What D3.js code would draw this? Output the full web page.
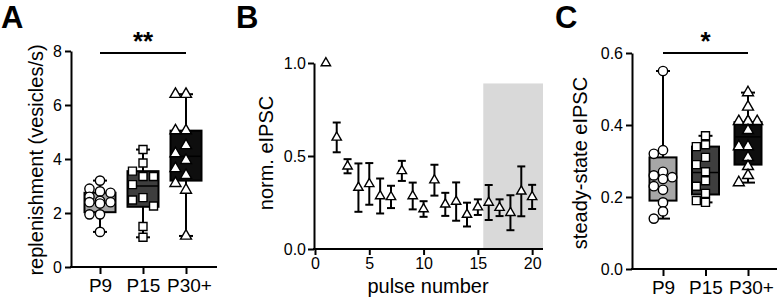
<!DOCTYPE html>
<html>
<head>
<meta charset="utf-8">
<script src="https://cdn.jsdelivr.net/npm/d3@7"></script>
<style>
  body { margin: 0; background: #fff; }
  svg { display: block; font-family: "Liberation Sans", Arial, sans-serif; }
</style>
</head>
<body>
<div id="fig"></div>
<script>
// ---- data ----
const groups = ["P9", "P15", "P30+"];
const groupFill = ["#a6a6a6", "#3e3e3e", "#0e0e0e"];
const groupShape = [d3.symbolCircle, d3.symbolSquare, d3.symbolTriangle];

// panel A: replenishment (vesicles/s)
const replP9 = [3.2, 2.9, 2.8, 2.75, 2.6, 2.45, 2.4, 2.4, 2.35, 1.95, 1.95, 1.3];
const replP15 = [4.35, 3.85, 3.55, 3.35, 3.35, 3.05, 2.57, 2.48, 2.26, 1.5, 1.1];
const replP30 = [6.4, 6.4, 5.05, 5.05, 4.5, 4.2, 3.95, 3.65, 3.4, 3.1, 2.85, 1.15];
// min, q1, median, q3, max
const replBox = [
  [1.3, 2.03, 2.37, 2.75, 3.2],
  [1.1, 2.23, 3.0, 3.55, 4.35],
  [1.15, 3.2, 4.1, 5.05, 6.4]
];
const replTicks = [0, 2, 4, 6, 8];

// panel B: normalised eIPSC per pulse (mean, error)
const pulses = d3.range(1, 21);
const eipscMean = [1.0, 0.60, 0.445, 0.33, 0.35, 0.285, 0.28, 0.42, 0.285, 0.215, 0.37, 0.24, 0.255, 0.185, 0.225, 0.25, 0.222, 0.195, 0.31, 0.28];
const eipscErr = [0, 0.08, 0.038, 0.13, 0.112, 0.094, 0.06, 0.054, 0.072, 0.042, 0.083, 0.062, 0.103, 0.064, 0.042, 0.094, 0.045, 0.094, 0.134, 0.065];
const steadyStart = 15.5;
const steadyTop = 0.89;

// panel C: steady-state eIPSC
const ssP9 = [0.55, 0.33, 0.32, 0.27, 0.26, 0.255, 0.25, 0.23, 0.22, 0.185, 0.16, 0.14];
const ssP15 = [0.37, 0.345, 0.34, 0.31, 0.29, 0.27, 0.245, 0.23, 0.21, 0.19, 0.185];
const ssP30 = [0.49, 0.45, 0.41, 0.41, 0.41, 0.41, 0.385, 0.34, 0.34, 0.31, 0.285, 0.26, 0.24];
const ssBox = [
  [0.14, 0.19, 0.255, 0.31, 0.55],
  [0.185, 0.207, 0.268, 0.34, 0.37],
  [0.24, 0.29, 0.367, 0.408, 0.49]
];
const ssTicks = [0, 0.2, 0.4, 0.6];

const W = 779, H = 302;
const svg = d3.select("#fig").append("svg")
  .attr("width", W)
  .attr("height", H);

function styleAxis(g, fontSize) {
  g.select(".domain").attr("stroke", "#000").attr("stroke-width", 2);
  g.selectAll(".tick line").attr("stroke", "#000").attr("stroke-width", 2);
  g.selectAll(".tick text")
    .attr("fill", "#000")
    .style("font-size", fontSize + "px")
    .style("font-family", "'Liberation Sans', Arial, sans-serif");
}

// small scatter layout: centre, left or right column, whichever is least crowded
function dodge(values, y, step) {
  const placed = [];
  const order = values.map((v, i) => i).sort((a, b) => values[b] - values[a]);
  const offs = new Array(values.length);
  const cands = [0, -step, step];
  order.forEach(i => {
    const py = y(values[i]);
    let best = 0, bestD = -1;
    for (const c of cands) {
      const d = placed.length ? d3.min(placed, p => Math.hypot(p.x - c, p.y - py)) : Infinity;
      if (d >= 9) { best = c; bestD = d; break; }
      if (d > bestD) { best = c; bestD = d; }
    }
    placed.push({ x: best, y: py });
    offs[i] = best;
  });
  return offs;
}

function boxPanel(opt) {
  const x = d3.scalePoint().domain(groups).range(opt.xRange);
  const y = d3.scaleLinear().domain(opt.yDomain).range(opt.yRange);

  // y axis
  const gy = svg.append("g")
    .attr("transform", `translate(${opt.axisX},0)`)
    .call(d3.axisLeft(y).tickValues(opt.ticks).tickSize(6).tickSizeOuter(0).tickPadding(3).tickFormat(opt.fmt));
  styleAxis(gy, 16);

  // x axis
  const gx = svg.append("g")
    .attr("transform", `translate(0,${opt.yRange[0]})`)
    .call(d3.axisBottom(x).tickSize(7).tickSizeOuter(0).tickPadding(5));
  gx.select(".domain").attr("d", `M${opt.axisX - 1},0H${opt.axisEnd}`);
  styleAxis(gx, 19);
  gx.selectAll(".tick text").attr("dx", (d, i) => i === 2 ? 3 : 0);

  const bw = opt.boxWidth;
  groups.forEach((gname, gi) => {
    const [mn, q1, md, q3, mx] = opt.box[gi];
    const cx = x(gname);
    const g = svg.append("g");
    g.append("line")
      .attr("x1", cx).attr("x2", cx)
      .attr("y1", y(mx)).attr("y2", y(mn))
      .attr("stroke", "#000").attr("stroke-width", 2);
    [mn, mx].forEach(v => g.append("line")
      .attr("x1", cx - 7).attr("x2", cx + 7)
      .attr("y1", y(v)).attr("y2", y(v))
      .attr("stroke", "#000").attr("stroke-width", 2));
    g.append("rect")
      .attr("x", cx - bw / 2).attr("width", bw)
      .attr("y", y(q3)).attr("height", y(q1) - y(q3))
      .attr("fill", groupFill[gi])
      .attr("stroke", "#000").attr("stroke-width", 2);
    g.append("line")
      .attr("x1", cx - bw / 2).attr("x2", cx + bw / 2)
      .attr("y1", y(md)).attr("y2", y(md))
      .attr("stroke", "#000").attr("stroke-width", 1.5);

    const vals = opt.points[gi];
    const offs = dodge(vals, y, bw * 0.34);
    const size = [68, 64, 52][gi];
    g.selectAll("path.pt")
      .data(vals)
      .enter().append("path")
      .attr("class", "pt")
      .attr("d", d3.symbol().type(groupShape[gi]).size(size))
      .attr("transform", (d, i) => `translate(${cx + offs[i]},${y(d)})`)
      .attr("fill", "#fff")
      .attr("stroke", "#000")
      .attr("stroke-width", 1.4);
  });

  // significance bar
  svg.append("line")
    .attr("x1", x(groups[0])).attr("x2", x(groups[2]))
    .attr("y1", opt.sigY).attr("y2", opt.sigY)
    .attr("stroke", "#000").attr("stroke-width", 2);
  svg.append("text")
    .attr("x", x(groups[1]))
    .attr("y", opt.sigY - 3)
    .attr("text-anchor", "middle")
    .style("font-size", "26px")
    .style("font-weight", "bold")
    .text(opt.sig);

  // y title
  svg.append("text")
    .attr("transform", `translate(${opt.titleX},${opt.titleY}) rotate(-90)`)
    .attr("text-anchor", "middle")
    .style("font-size", "20px")
    .text(opt.title);
}

// ---- panel A ----
boxPanel({
  xRange: [100, 186], yDomain: [0, 8], yRange: [267, 51],
  axisX: 71, axisEnd: 217, ticks: replTicks, fmt: d3.format("d"),
  box: replBox, points: [replP9, replP15, replP30], boxWidth: 31,
  sigY: 53, sig: "**",
  title: "replenishment (vesicles/s)", titleX: 43, titleY: 160
});

// ---- panel C ----
boxPanel({
  xRange: [663, 748], yDomain: [0, 0.6], yRange: [269, 53],
  axisX: 632, axisEnd: 777, ticks: ssTicks, fmt: d3.format(".1f"),
  box: ssBox, points: [ssP9, ssP15, ssP30], boxWidth: 27,
  sigY: 53, sig: "*",
  title: "steady-state eIPSC", titleX: 587, titleY: 163
});

// ---- panel B ----
const xb = d3.scaleLinear().domain([0, 21]).range([315, 543]);
const yb = d3.scaleLinear().domain([0, 1]).range([249, 63]);

svg.append("rect")
  .attr("x", xb(steadyStart))
  .attr("width", xb(21) - xb(steadyStart))
  .attr("y", yb(steadyTop))
  .attr("height", yb(0) - yb(steadyTop))
  .attr("fill", "#d9d9d9");

const gyb = svg.append("g")
  .attr("transform", `translate(${xb(0) - 1},0)`)
  .call(d3.axisLeft(yb).tickValues([0, 0.5, 1]).tickFormat(d3.format(".1f")).tickSize(6).tickSizeOuter(0).tickPadding(2));
styleAxis(gyb, 16);

const gxb = svg.append("g")
  .attr("transform", `translate(0,${yb(0)})`)
  .call(d3.axisBottom(xb).tickValues([0, 5, 10, 15, 20]).tickSize(6).tickSizeOuter(0).tickPadding(3));
gxb.select(".domain").attr("d", `M${xb(0) - 2},0H${xb(21)}`);
styleAxis(gxb, 16);

const errG = svg.append("g");
pulses.forEach((p, i) => {
  if (eipscErr[i] <= 0) return;
  const lo = eipscMean[i] - eipscErr[i], hi = eipscMean[i] + eipscErr[i];
  errG.append("line")
    .attr("x1", xb(p)).attr("x2", xb(p))
    .attr("y1", yb(hi)).attr("y2", yb(lo))
    .attr("stroke", "#000").attr("stroke-width", 2);
  [lo, hi].forEach(v => errG.append("line")
    .attr("x1", xb(p) - 4).attr("x2", xb(p) + 4)
    .attr("y1", yb(v)).attr("y2", yb(v))
    .attr("stroke", "#000").attr("stroke-width", 2));
});

svg.append("g").selectAll("path")
  .data(pulses)
  .enter().append("path")
  .attr("d", d3.symbol().type(d3.symbolTriangle).size(38))
  .attr("transform", (d, i) => `translate(${xb(d)},${yb(eipscMean[i])})`)
  .attr("fill", "#fff")
  .attr("stroke", "#000")
  .attr("stroke-width", 1.4);

svg.append("text")
  .attr("x", 428).attr("y", 293)
  .attr("text-anchor", "middle")
  .style("font-size", "20px")
  .text("pulse number");

svg.append("text")
  .attr("transform", "translate(273,153) rotate(-90)")
  .attr("text-anchor", "middle")
  .style("font-size", "20px")
  .text("norm. eIPSC");

// panel letters
[["A", 1], ["B", 236], ["C", 555]].forEach(([t, xp]) => {
  svg.append("text")
    .attr("x", xp).attr("y", 28)
    .style("font-size", "31px")
    .style("font-weight", "bold")
    .text(t);
});
</script>
</body>
</html>
